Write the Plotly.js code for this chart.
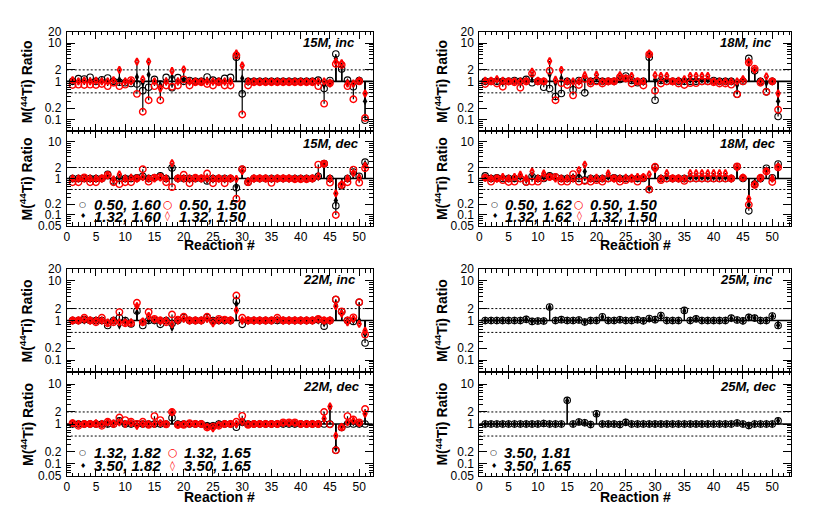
<!DOCTYPE html>
<html>
<head>
<meta charset="utf-8">
<script src="https://cdn.plot.ly/plotly-3.0.1.min.js"></script>
<style>
  html, body { margin: 0; padding: 0; background: #fff; }
  #chart { width: 830px; height: 505px; }
</style>
</head>
<body>
<div id="chart"></div>
<script>
// ── Data: M(44Ti) ratio per reaction # (1..51) ─────────────────────────────
const reactions = Array.from({length: 51}, (_, i) => i + 1);

// 15M
const A15i = [1.0,1.18,1.15,1.28,1.0, 1.1,1.22,1.0,0.95,0.92, 0.88,0.85,0.57,0.7,1.13, 0.85,1.27,0.68,1.25,1.0, 1.05,1.0,1.0,1.3,1.08, 1.0,1.2,1.27,4.3,0.47, 1.0,1.0,1.0,1.0,1.0, 1.0,1.0,1.0,1.0,1.0, 1.0,1.0,1.08,0.65,1.05, 5.2,2.1,1.08,0.72,1.05, 0.096];
const B15i = [1.02,1.0,1.05,1.0,1.0, 1.05,1.0,1.0,1.1,1.0, 1.0,1.3,0.9,1.5,1.0, 0.8,1.0,1.3,1.0,1.1, 1.0,1.0,1.0,1.05,1.0, 1.0,1.0,1.0,4.6,1.2, 1.0,1.0,1.0,1.0,1.0, 1.0,1.0,1.0,1.0,1.0, 1.0,1.0,1.0,0.8,0.95, 4.0,2.5,0.95,0.85,1.05, 0.3];
const C15i = [0.8,0.82,0.8,0.82,0.8, 0.85,0.75,0.92,0.75,0.82, 1.08,0.47,0.16,0.32,0.75, 0.32,0.78,0.72,0.78,1.13, 0.78,0.95,0.95,0.85,0.78, 0.95,0.78,0.78,4.8,0.135, 0.78,0.95,0.95,0.95,0.95, 0.95,0.95,0.95,0.95,0.95, 0.95,0.95,0.75,0.26,0.9, 2.85,2.7,0.75,0.34,1.0, 0.11];
const D15i = [1.08,1.0,1.05,1.0,1.05, 1.0,1.0,1.08,2.0,1.0, 1.0,3.3,1.15,3.3,1.0, 0.65,1.0,1.87,1.0,2.07, 1.0,1.0,1.0,1.0,1.0, 1.0,1.0,1.0,5.4,2.6, 1.0,1.0,1.0,1.0,1.0, 1.0,1.0,1.0,1.0,1.0, 1.0,1.0,1.0,1.0,0.88, 3.3,3.0,0.88,0.88,1.05, 0.48];
const A15d = [1.0,1.0,1.0,1.0,1.0, 1.0,1.3,0.86,1.0,1.0, 1.0,1.05,1.15,1.0,1.05, 1.18,1.0,1.95,1.0,1.0, 1.0,1.0,1.0,0.86,1.0, 1.0,1.0,1.0,0.56,1.8, 0.79,1.0,1.0,1.0,1.0, 1.0,1.0,1.0,1.0,1.0, 1.0,1.0,1.15,2.55,1.0, 0.18,0.63,1.0,1.5,1.15, 2.8];
const B15d = [1.0,1.0,1.0,1.0,1.0, 1.0,1.25,0.9,1.05,1.0, 1.05,1.0,1.1,1.0,1.05, 1.1,1.0,2.0,1.0,1.0, 1.0,1.0,1.0,0.9,1.0, 1.0,1.0,1.0,0.6,1.6, 0.85,1.0,1.0,1.0,1.0, 1.0,1.0,1.0,1.0,1.0, 1.0,1.0,1.1,2.4,1.0, 0.25,0.7,1.0,1.4,1.1, 2.5];
const C15d = [0.79,0.79,1.07,0.79,0.79, 1.0,1.25,0.79,0.7,0.79, 0.79,1.0,1.8,0.82,1.05, 1.1,0.79,0.58,1.0,1.27, 0.74,1.05,1.0,1.37,0.74, 1.0,0.74,1.0,0.28,1.8, 0.79,1.0,1.0,1.0,0.76, 1.0,1.0,1.0,0.95,0.95, 0.95,1.0,2.4,2.55,0.77, 0.1,0.66,0.79,1.75,0.77, 1.9];
const D15d = [1.0,1.0,1.0,1.0,1.0, 1.0,1.2,0.95,1.3,1.0, 1.05,1.0,1.1,1.0,1.0, 1.05,1.0,2.65,1.0,1.0, 1.0,1.0,1.0,1.0,1.0, 1.0,1.0,1.0,0.98,1.6, 0.85,1.0,1.0,1.0,1.0, 1.0,1.0,1.0,1.0,1.0, 1.0,1.0,1.15,2.5,1.0, 0.39,0.7,1.0,1.4,1.05, 2.2];

// 18M
const A18i = [1.0,1.0,1.0,1.0,1.0, 1.05,1.0,1.13,0.92,1.0, 0.7,0.65,0.4,0.48,1.0, 0.6,1.05,0.5,1.0,1.05, 1.0,1.0,1.0,1.12,1.38, 1.05,0.92,1.0,4.3,0.32, 1.05,1.0,1.0,1.0,1.0, 1.0,1.0,1.0,1.0,1.05, 1.0,1.0,1.0,0.46,1.0, 4.0,1.9,1.0,0.53,1.0, 0.12];
const B18i = [1.0,1.0,1.05,1.0,1.0, 1.0,1.0,1.05,1.4,1.0, 1.0,1.5,0.9,1.2,1.0, 0.9,1.0,1.2,1.0,1.2, 1.0,1.0,1.0,1.2,1.2, 1.1,1.0,1.0,4.8,1.1, 1.1,1.1,1.0,1.0,1.05, 1.1,1.1,1.1,1.1,1.0, 1.0,1.0,1.0,0.8,1.05, 3.5,1.9,1.0,0.9,1.0, 0.3];
const C18i = [0.85,1.0,0.88,0.72,1.0, 0.95,0.68,1.0,1.6,1.0, 1.0,1.9,0.32,0.9,0.8, 0.43,0.8,1.15,0.88,1.0, 0.88,1.0,1.0,1.3,1.2, 0.88,1.0,0.78,5.1,0.57, 0.88,1.0,1.0,0.88,0.8, 0.9,0.9,1.0,1.0,0.95, 0.88,0.88,0.82,0.46,1.0, 3.1,2.15,0.92,0.53,1.0, 0.18];
const D18i = [1.05,1.05,1.15,1.05,1.0, 1.0,1.0,1.0,1.8,1.05, 1.0,3.4,1.1,2.0,1.0, 1.0,1.0,1.45,1.0,1.5, 1.0,1.0,1.0,1.45,1.2, 1.4,1.0,1.0,5.4,1.45, 1.4,1.4,1.0,1.05,1.15, 1.4,1.4,1.4,1.4,1.0, 1.0,1.0,1.0,1.0,1.15, 3.2,2.0,1.0,1.35,1.0, 0.48];
const A18d = [1.18,1.0,1.05,1.0,1.0, 1.0,1.0,0.8,1.13,1.0, 1.0,1.18,1.1,1.0,1.0, 1.0,1.0,0.9,1.0,1.0, 1.0,1.0,1.05,1.0,1.0, 1.0,1.0,1.0,0.5,2.0, 1.0,1.0,1.0,1.0,1.0, 1.0,1.0,1.0,1.0,1.0, 1.0,1.0,1.0,2.1,1.0, 0.13,0.7,1.0,1.9,1.05, 2.5];
const B18d = [1.05,1.0,1.0,1.05,1.0, 1.0,1.1,0.9,1.2,1.0, 1.1,1.15,1.05,1.0,1.0, 1.1,1.2,1.55,1.0,1.0, 1.0,1.1,1.0,1.0,1.0, 1.0,1.0,1.05,0.55,1.8, 1.0,1.1,1.0,1.0,1.0, 1.1,1.1,1.1,1.1,1.1, 1.1,1.1,1.0,2.0,1.05, 0.19,0.75,1.0,1.7,1.0, 2.3];
const C18d = [1.05,0.82,1.0,0.9,0.8, 0.82,1.0,0.8,0.82,0.82, 1.05,1.1,1.1,0.82,0.82, 1.32,0.82,0.85,0.82,0.9, 0.82,1.0,1.0,0.82,0.9, 0.98,0.82,1.05,0.5,2.1, 0.9,1.0,1.0,1.0,0.86, 1.0,1.0,1.0,1.0,1.0, 1.0,1.0,1.0,2.15,1.05, 0.19,0.66,1.05,1.55,0.8, 2.0];
const D18d = [1.05,1.0,1.0,1.1,1.0, 1.1,1.27,1.0,1.55,1.0, 1.37,1.1,1.0,1.0,1.0, 1.0,1.7,2.4,1.0,1.05, 1.0,1.37,1.0,1.0,1.05, 1.05,1.1,1.1,1.3,1.8, 1.0,1.4,1.0,1.0,1.0, 1.4,1.4,1.4,1.4,1.4, 1.4,1.4,1.0,2.0,1.05, 0.28,0.7,1.0,1.6,1.0, 2.1];

// 22M
const A22i = [1.0,1.0,1.05,1.0,1.0, 1.0,0.75,1.0,1.17,1.0, 0.82,1.73,0.75,1.0,1.0, 0.8,1.0,0.84,1.0,1.2, 1.0,1.0,1.0,1.2,1.0, 1.0,1.0,1.0,3.1,0.8, 1.0,1.0,1.0,1.0,1.0, 1.0,1.0,1.0,1.0,1.0, 1.0,1.0,1.05,0.72,1.0, 3.4,1.66,1.0,0.95,2.9, 0.27];
const B22i = [1.0,1.0,1.0,1.0,1.0, 1.0,0.85,1.0,0.75,1.0, 0.9,1.6,0.9,1.0,1.0, 0.9,1.0,0.65,1.0,1.1, 1.0,1.0,1.0,1.1,1.0, 1.0,1.0,1.0,2.6,1.0, 1.0,1.0,1.0,1.0,1.0, 1.0,1.0,1.0,1.0,1.0, 1.0,1.0,1.0,0.85,1.0, 2.5,1.6,1.0,1.0,1.0, 0.45];
const C22i = [1.0,1.0,1.17,1.0,0.9, 1.17,0.85,0.9,1.63,0.85, 0.85,2.8,0.9,1.63,1.1, 1.0,0.9,1.42,1.05,1.24, 1.0,1.0,1.0,1.24,0.95, 1.1,1.05,1.0,4.3,1.17, 1.0,1.0,1.0,1.0,1.0, 1.17,1.0,1.0,1.0,1.0, 1.0,1.0,1.1,1.0,1.0, 3.4,1.7,1.0,1.2,2.9, 0.44];
const D22i = [1.0,1.0,1.05,1.0,1.0, 1.0,0.9,1.0,0.9,0.9, 0.9,2.3,0.95,1.3,1.05, 1.0,1.0,0.8,1.0,1.1, 1.0,1.0,1.0,1.1,0.85, 1.0,1.0,1.0,1.8,1.0, 1.0,1.0,1.0,1.0,1.0, 1.05,1.0,1.0,1.0,1.0, 1.0,1.0,1.05,1.0,1.0, 2.3,1.5,0.9,1.1,0.82, 0.55];
const A22d = [1.0,1.0,1.0,1.0,1.0, 1.0,1.0,1.0,1.2,1.0, 1.0,1.0,1.0,1.0,1.0, 1.0,1.0,1.43,1.0,1.0, 1.0,1.0,1.0,0.9,0.9, 1.0,1.0,1.0,0.83,1.1, 1.0,1.0,1.0,1.0,1.0, 1.0,1.0,1.0,1.0,1.0, 1.0,1.0,1.0,1.0,1.0, 0.22,0.82,1.0,1.0,1.0, 1.0];
const B22d = [1.0,1.0,1.0,1.0,1.0, 1.0,1.0,1.0,1.1,1.0, 1.0,1.0,1.0,1.0,1.0, 1.0,1.0,1.8,1.0,1.0, 1.0,1.0,1.0,0.9,0.9, 1.0,1.0,1.0,0.95,1.1, 1.0,1.0,1.0,1.0,1.0, 1.0,1.0,1.0,1.0,1.0, 1.0,1.0,1.0,1.4,2.5, 0.25,0.85,1.1,1.1,1.0, 1.8];
const C22d = [1.05,0.9,1.0,1.0,1.0, 0.9,1.14,1.0,1.45,1.25, 1.14,1.0,1.14,0.95,1.57, 1.25,0.98,2.0,0.95,0.95, 1.05,1.0,1.0,0.82,0.85, 0.9,1.0,1.0,1.14,1.6, 0.95,1.0,1.0,1.0,1.0, 1.0,1.1,1.1,1.1,1.0, 1.0,1.0,1.0,2.0,0.98, 0.22,0.82,1.57,1.3,1.1, 2.37];
const D22d = [1.05,1.0,1.0,1.0,1.05, 1.0,1.1,1.05,1.1,1.0, 1.05,0.9,1.0,1.0,1.0, 1.05,1.0,1.95,0.95,1.0, 1.0,1.0,1.0,0.85,0.78, 0.95,1.0,1.0,1.0,1.14, 1.0,1.0,1.0,1.0,1.0, 1.0,1.05,1.05,1.05,1.0, 1.0,1.0,1.0,1.37,2.75, 0.51,0.85,1.1,1.2,1.05, 1.8];

// 25M
const A25i = [1.0,1.0,1.0,1.0,1.0, 1.0,1.0,1.07,0.95,0.97, 0.97,2.2,1.0,1.05,1.0, 1.0,1.03,0.92,1.0,1.0, 1.24,1.0,1.0,1.04,1.0, 1.0,1.04,0.98,1.12,1.05, 1.34,1.0,1.0,1.0,1.8, 1.0,1.1,1.0,1.0,1.0, 1.0,1.0,1.15,1.03,0.98, 1.2,1.15,1.0,1.0,1.3, 0.75];
const B25i = [1.0,1.0,1.0,1.0,1.0, 1.0,1.0,1.07,0.95,0.97, 0.97,2.15,1.0,1.05,1.0, 1.0,1.03,0.92,1.0,1.0, 1.22,1.0,1.0,1.04,1.0, 1.0,1.04,0.98,1.1,1.05, 1.32,1.0,1.0,1.0,1.75, 1.0,1.1,1.0,1.0,1.0, 1.0,1.0,1.13,1.03,0.98, 1.2,1.15,1.0,1.0,1.28, 0.76];
const A25d = [1.0,1.0,1.0,1.0,1.0, 1.0,1.0,1.0,1.0,1.0, 1.03,1.0,1.0,1.0,3.9, 1.0,1.12,1.07,0.97,1.8, 1.0,1.0,1.0,0.97,1.1, 1.0,1.0,1.0,1.0,1.0, 1.0,1.0,1.0,1.0,1.0, 1.0,1.0,1.0,1.0,1.0, 1.0,1.0,1.0,1.06,1.0, 0.92,1.0,1.0,1.0,1.0, 1.2];
const B25d = [1.0,1.0,1.0,1.0,1.0, 1.0,1.0,1.0,1.0,1.0, 1.03,1.0,1.0,1.0,3.8, 1.0,1.12,1.07,0.97,1.75, 1.0,1.0,1.0,0.97,1.1, 1.0,1.0,1.0,1.0,1.0, 1.0,1.0,1.0,1.0,1.0, 1.0,1.0,1.0,1.0,1.0, 1.0,1.0,1.0,1.06,1.0, 0.92,1.0,1.0,1.0,1.0, 1.2];

// legend labels (order: black circle, black diamond, red circle, red diamond)
const leg15 = ['0.50, 1.60', '1.32, 1.60', '0.50, 1.50', '1.32, 1.50'];
const leg18 = ['0.50, 1.62', '1.32, 1.62', '0.50, 1.50', '1.32, 1.50'];
const leg22 = ['1.32, 1.82', '3.50, 1.82', '1.32, 1.65', '3.50, 1.65'];
const leg25 = ['3.50, 1.81', '3.50, 1.65'];

// ── Layout geometry ──────────────────────────────────────────────────────────
const FONT = 'Liberation Sans, Arial, Helvetica, sans-serif';
const colX = [[0.0804, 0.4490], [0.5775, 0.9530]];
const xRange = [[0, 52.3], [0, 53.2]];
const grpY = [{inc: [0.7406, 0.9372], dec: [0.5525, 0.7406]},
              {inc: [0.2634, 0.4673], dec: [0.0574, 0.2634]}];
const xTitleY = [0.515, 0.016];
const yTitleX = [0.0325, 0.532];

const panels = [
  {tag: '15M', col: 0, grp: 0, inc: [A15i, B15i, C15i, D15i], dec: [A15d, B15d, C15d, D15d], leg: leg15, lx: [0.052, 0.082, 0.331, 0.362]},
  {tag: '18M', col: 1, grp: 0, inc: [A18i, B18i, C18i, D18i], dec: [A18d, B18d, C18d, D18d], leg: leg18, lx: [0.050, 0.077, 0.320, 0.348]},
  {tag: '22M', col: 0, grp: 1, inc: [A22i, B22i, C22i, D22i], dec: [A22d, B22d, C22d, D22d], leg: leg22, lx: [0.052, 0.082, 0.346, 0.377]},
  {tag: '25M', col: 1, grp: 1, inc: [A25i, B25i], dec: [A25d, B25d], leg: leg25, lx: [0.047, 0.074]},
];

const STY = [
  {symbol: 'circle-open', size: 6.5, color: '#000000', lw: 1.1},
  {symbol: 'diamond-tall', size: 6, color: '#000000', lw: 0},
  {symbol: 'circle-open', size: 6.5, color: '#ff0000', lw: 1.4},
  {symbol: 'diamond-tall-open', size: 5, color: '#ff0000', lw: 1.8},
];
const GLYPH = [{t: '○', c: '#000', s: 8}, {t: '♦', c: '#000', s: 7}, {t: '○', c: '#ff0000', s: 11}, {t: '◊', c: '#ff0000', s: 10}];

const minorY = [];
[0.01, 0.1, 1, 10].forEach(d => { for (let k = 2; k <= 9; k++) minorY.push(+(k * d).toPrecision(3)); });

const tickFont = {family: FONT, size: 12, color: '#000'};
const traces = [], shapes = [], annotations = [];
const layout = {
  width: 830, height: 505, margin: {l: 0, r: 0, t: 0, b: 0},
  paper_bgcolor: '#fff', plot_bgcolor: '#fff', showlegend: false,
  font: {family: FONT, color: '#000'},
};

let ai = 0;
panels.forEach(p => {
  ['inc', 'dec'].forEach(sub => {
    ai += 1;
    const xa = 'x' + (ai === 1 ? '' : ai), ya = 'y' + (ai === 1 ? '' : ai);
    const isDec = sub === 'dec';
    layout['xaxis' + (ai === 1 ? '' : ai)] = {
      domain: colX[p.col], range: xRange[p.col], anchor: ya,
      showline: true, linecolor: '#000', linewidth: 1, mirror: 'ticks',
      ticks: 'inside', ticklen: 7, tickcolor: '#000', dtick: 5, tick0: 0,
      minor: {dtick: 1, ticks: 'inside', ticklen: 3.5, tickcolor: '#000'},
      showgrid: false, zeroline: false, showticklabels: isDec, tickfont: tickFont,
      ticklabelstandoff: 0, automargin: false, fixedrange: true,
    };
    const tv = isDec ? [0.05, 0.1, 0.2, 1, 2, 10] : [0.1, 0.2, 1, 2, 10, 20];
    layout['yaxis' + (ai === 1 ? '' : ai)] = {
      domain: grpY[p.grp][sub], type: 'log', range: [Math.log10(0.05), Math.log10(20)], anchor: xa,
      showline: true, linecolor: '#000', linewidth: 1, mirror: 'ticks',
      ticks: 'inside', ticklen: 8, tickcolor: '#000',
      tickmode: 'array', tickvals: tv, ticktext: tv.map(String),
      minor: {tickmode: 'array', tickvals: minorY, ticks: 'inside', ticklen: 4, tickcolor: '#000'},
      showgrid: false, zeroline: false, tickfont: tickFont, ticklabelstandoff: 2,
      automargin: false, fixedrange: true,
    };

    // reference lines
    [[1, 'solid', 1.6], [2, '2px,2px', 1], [0.5, '2px,2px', 1]].forEach(([v, dash, w]) => {
      shapes.push({type: 'line', xref: xa + ' domain', yref: ya, x0: 0, x1: 1, y0: v, y1: v,
                   line: {color: '#000', width: w, dash}, layer: 'below'});
    });

    const series = p[sub];
    // stems from 1 to each value
    const sx = [], sy = [];
    series.forEach(vals => vals.forEach((v, i) => { sx.push(reactions[i], reactions[i], null); sy.push(1, v, null); }));
    traces.push({x: sx, y: sy, xaxis: xa, yaxis: ya, mode: 'lines', type: 'scatter',
                 line: {color: '#000', width: 1.2}, hoverinfo: 'skip'});
    series.forEach((vals, s) => {
      const st = STY[s];
      traces.push({x: reactions, y: vals, xaxis: xa, yaxis: ya, mode: 'markers', type: 'scatter',
                   name: p.tag + ' ' + sub + ' ' + p.leg[s],
                   marker: {symbol: st.symbol, size: st.size, color: st.color,
                            line: {color: st.color, width: st.lw}},
                   hovertemplate: '#%{x}: %{y:.2f}<extra>' + p.leg[s] + '</extra>'});
    });

    // panel label
    annotations.push({xref: xa + ' domain', yref: ya + ' domain', x: 0.767, y: isDec ? 0.865 : 0.895,
                      xanchor: 'left', yanchor: 'middle', showarrow: false,
                      text: '<b><i>' + p.tag + ', ' + sub + '</i></b>', font: {size: 13, family: FONT}});
    // y title
    const d = grpY[p.grp][sub];
    annotations.push({xref: 'paper', yref: 'paper', x: yTitleX[p.col], y: (d[0] + d[1]) / 2,
                      xanchor: 'center', yanchor: 'middle', showarrow: false, textangle: -90,
                      text: '<b>M(<sup>44</sup>Ti) Ratio</b>', font: {size: 14, family: FONT}});

    if (isDec) {
      annotations.push({xref: 'paper', yref: 'paper', x: (colX[p.col][0] + colX[p.col][1]) / 2, y: xTitleY[p.grp],
                        xanchor: 'center', yanchor: 'middle', showarrow: false,
                        text: '<b>Reaction #</b>', font: {size: 14, family: FONT}});
      // legend (2 x 2)
      p.leg.forEach((lab, s) => {
        const colIdx = s < 2 ? 0 : 1, rowIdx = s % 2;
        const g = GLYPH[s];
        const yy = rowIdx === 0 ? 0.225 : 0.1;
        annotations.push({xref: xa + ' domain', yref: ya + ' domain', x: p.lx[colIdx * 2], y: yy,
                          xanchor: 'center', yanchor: 'middle', showarrow: false,
                          text: g.t, font: {size: g.s, color: g.c, family: 'DejaVu Sans'}});
        annotations.push({xref: xa + ' domain', yref: ya + ' domain', x: p.lx[colIdx * 2 + 1], y: yy,
                          xanchor: 'left', yanchor: 'middle', showarrow: false,
                          text: '<b><i>' + lab + '</i></b>', font: {size: 15, family: FONT}});
      });
    }
  });
});

layout.shapes = shapes;
layout.annotations = annotations;

Plotly.newPlot('chart', traces, layout, {displayModeBar: false, staticPlot: true});
</script>
</body>
</html>
